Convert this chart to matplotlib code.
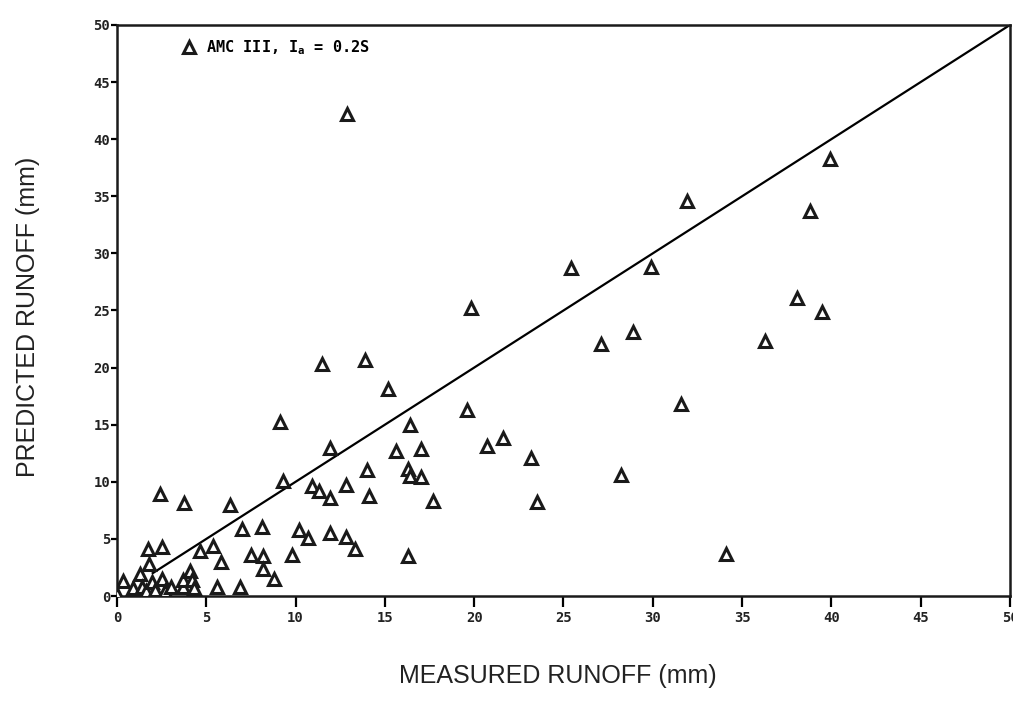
import matplotlib
matplotlib.use("Agg")
import matplotlib.pyplot as plt
import numpy as np

# measured vs predicted runoff (mm)
measured = [
    0.0, 0.35, 0.9, 1.3, 1.4, 1.6, 1.75, 1.8, 1.95, 2.1, 2.5, 2.5, 2.7, 3.05,
    3.7, 3.7, 4.1, 4.2, 4.3, 4.65, 5.35, 5.6, 5.8, 6.9, 7.0, 2.4, 3.75, 6.3,
    7.5, 8.1, 8.2, 8.2, 8.8, 9.8, 10.2, 10.7, 11.9, 12.8, 13.3, 9.1, 9.3,
    10.9, 11.3, 11.9, 12.8, 11.9, 11.5, 13.9, 15.2, 14.0, 14.1, 15.6, 16.4,
    17.0, 16.3, 16.4, 17.0, 17.7, 16.3, 12.9, 19.6, 19.8, 20.7, 21.6, 23.2,
    23.5, 25.4, 27.1, 28.9, 28.2, 29.9, 31.6, 31.9, 34.1, 36.3, 38.1, 38.8,
    39.5, 39.9,
]
predicted = [
    0.2, 1.3, 0.7, 1.9, 0.8, 0.4, 4.1, 2.8, 1.2, 0.5, 4.3, 1.5, 0.4, 0.8,
    0.8, 1.4, 2.2, 1.4, 0.7, 3.9, 4.4, 0.8, 3.0, 0.8, 5.9, 8.9, 8.1, 8.0,
    3.6, 6.0, 3.5, 2.4, 1.5, 3.6, 5.8, 5.1, 5.5, 5.2, 4.1, 15.2, 10.1,
    9.6, 9.2, 8.6, 9.7, 13.0, 20.3, 20.7, 18.1, 11.0, 8.8, 12.7, 15.0,
    12.9, 11.1, 10.5, 10.4, 8.3, 3.5, 42.2, 16.3, 25.2, 13.1, 13.8, 12.1,
    8.2, 28.7, 22.1, 23.1, 10.6, 28.8, 16.8, 34.6, 3.7, 22.3, 26.1, 33.7,
    24.9, 38.3,
]
line_x = [2.0, 50.0]
ticks = [0, 5, 10, 15, 20, 25, 30, 35, 40, 45, 50]
legend_label = r"AMC III, $I_a$ = 0.2S"

plt.rcParams["mathtext.fontset"] = "custom"
plt.rcParams["mathtext.rm"] = "DejaVu Sans Mono:bold"
plt.rcParams["mathtext.it"] = "DejaVu Sans Mono:bold"

fig = plt.figure(figsize=(10.13, 7.05), dpi=100)
ax = fig.add_axes([0.1155, 0.1546, 0.8815, 0.81])

ax.plot(line_x, line_x, color="black", lw=1.6, zorder=2)
ax.plot(measured, predicted, linestyle="none", marker="^", ms=8.5,
        mfc="white", mec="#1a1a1a", mew=2.2, zorder=3, label=legend_label)

ax.set_xlim(0, 50)
ax.set_ylim(0, 50)
ax.set_xticks(ticks)
ax.set_yticks(ticks)
ax.set_xticklabels([str(t) for t in ticks])
ax.set_yticklabels([str(t) for t in ticks])

for s in ax.spines.values():
    s.set_linewidth(1.8)
    s.set_color("#1a1a1a")

for lab in ax.get_xticklabels() + ax.get_yticklabels():
    lab.set_fontfamily("DejaVu Sans Mono")
    lab.set_fontweight("bold")
    lab.set_fontsize(10)
    lab.set_color("#222222")
ax.tick_params(axis="x", direction="out", length=8, width=1.6, pad=3)
ax.tick_params(axis="y", direction="out", length=4, width=1.6, pad=1)

ax.legend(loc="upper left", bbox_to_anchor=(0.055, 1.0), frameon=False,
          handletextpad=0.5, handlelength=1.2,
          prop={"family": "DejaVu Sans Mono", "weight": "bold", "size": 11})

fig.text(0.551, 0.024, "MEASURED RUNOFF (mm)", ha="center", va="bottom",
         fontsize=18, family="Liberation Sans", color="#222222")
fig.text(0.028, 0.55, "PREDICTED RUNOFF (mm)", ha="center", va="center",
         rotation=90, fontsize=18, family="Liberation Sans", color="#222222")

fig.savefig("out.png", dpi=100)
